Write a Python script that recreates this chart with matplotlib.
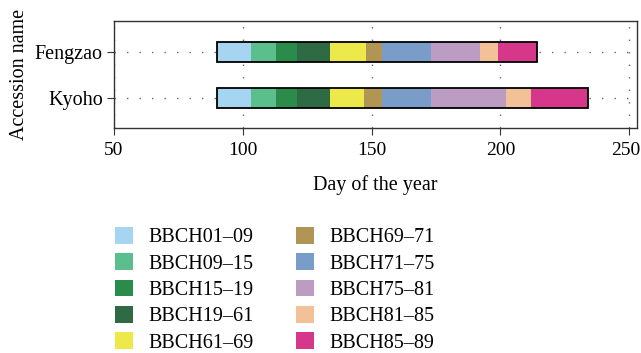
import matplotlib
matplotlib.use("Agg")
import matplotlib.pyplot as plt
import matplotlib.transforms as mtransforms
from matplotlib.patches import Patch

plt.rcParams['font.family'] = ['Liberation Serif', 'DejaVu Serif']

# 品種
accessions = ["Kyoho", "Fengzao"]
stages = ["BBCH01\u201309", "BBCH09\u201315", "BBCH15\u201319", "BBCH19\u201361",
          "BBCH61\u201369", "BBCH69\u201371", "BBCH71\u201375", "BBCH75\u201381",
          "BBCH81\u201385", "BBCH85\u201389"]
colors = ["#A6D5F1", "#5BBF8D", "#2B8B4B", "#2E6B45", "#EEE94A",
          "#B09555", "#7A9CC9", "#BC9CC3", "#F3C197", "#D7378A"]

# 各ステージの境界（日）
kyoho_days = [90, 103, 113, 121, 134, 147, 154, 173, 202, 212, 234]
fengzao_days = [90, 103, 113, 121, 134, 148, 154, 173, 192, 199, 214]
boundaries = [kyoho_days, fengzao_days]

fs = 14.5

fig = plt.figure(figsize=(6.41, 3.53), dpi=100)
ax = fig.add_axes([0.1778, 0.6374, 0.8160, 0.3031])

bar_h = 0.43
for i, days in enumerate(boundaries):
    for j in range(len(days) - 1):
        ax.barh(i, days[j + 1] - days[j], left=days[j], height=bar_h,
                color=colors[j], edgecolor="none", zorder=3)
    ax.barh(i, days[-1] - days[0], left=days[0], height=bar_h,
            facecolor="none", edgecolor="black", linewidth=1.3, zorder=4)

ax.set_xlim(50, 253)
ax.set_ylim(-0.65, 1.67)
ax.set_xticks([50, 100, 150, 200, 250])
ax.set_yticks([0, 1])
ax.set_yticklabels(accessions)
ax.grid(True, color="#666666", linestyle=(0, (1, 8)), linewidth=1.0, zorder=0)
ax.tick_params(labelsize=fs, color="#333333", length=5, pad=3)
ax.tick_params(axis="x", labelsize=14, pad=5)
for s in ax.spines.values():
    s.set_color("#333333")
    s.set_linewidth(1.0)

# 右端の250が切れないよう少し左へ
last = ax.get_xticklabels()[-1]
last.set_transform(last.get_transform() +
                   mtransforms.ScaledTranslation(-4 / 100, 0, fig.dpi_scale_trans))

ax.set_xlabel("Day of the year", fontsize=fs, labelpad=12)
ax.set_ylabel("Accession name", fontsize=fs, labelpad=4)

handles = [Patch(facecolor=c, edgecolor="none") for c in colors]
fig.legend(handles, stages, ncol=2, loc="upper left",
           bbox_to_anchor=(0.167, 0.38), frameon=False, fontsize=fs,
           handlelength=0.9, handleheight=0.9, handletextpad=0.75,
           columnspacing=2.1, labelspacing=0.3, borderaxespad=0)

fig.savefig("out.png", dpi=100)
